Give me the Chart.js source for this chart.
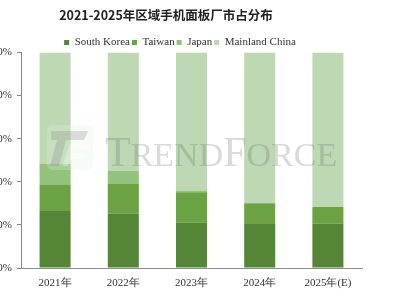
<!DOCTYPE html>
<html><head><meta charset="utf-8">
<script src="https://cdn.jsdelivr.net/npm/chart.js@4.4.0/dist/chart.umd.min.js"></script>
<style>
html,body{margin:0;padding:0;background:#fff;overflow:hidden;width:400px;height:300px;}
#wrap{position:absolute;left:-40px;top:0;width:440px;height:300px;}
</style></head>
<body><div id="wrap"><canvas id="c" width="440" height="300"></canvas></div>
<script>
const title = '2021-2025年区域手机面板厂市占分布';
const categories = ['2021年','2022年','2023年','2024年','2025年(E)'];
const seriesNames = ['South Korea','Taiwan','Japan','Mainland China'];
const southKorea = [26.4, 25.3, 21.0, 20.4, 20.7];
const taiwan = [12.1, 13.9, 14.2, 9.6, 7.6];
const japan = [9.8, 5.8, 0.8, 0, 0];
const mainlandChina = [51.7, 55.0, 64.0, 70.0, 71.7];
const yTicks = [0, 20, 40, 60, 80, 100];
const colors = ['#558638', '#6ba243', '#92c27b', '#bed8b4'];

const serif = 'Liberation Serif, Times New Roman, serif';

const titlePlugin = {
  id: 'titleAndMark',
  afterDatasetsDraw(chart) {
    const ctx = chart.ctx;
    ctx.save();
    ctx.globalAlpha = 0.28;
    ctx.fillStyle = '#e4f0dc';
    ctx.beginPath();
    ctx.roundRect(87, 125, 46, 45, 6);
    ctx.fill();
    ctx.fillStyle = '#8a8a8a';
    ctx.beginPath();
    ctx.moveTo(91, 131); ctx.lineTo(128, 131); ctx.lineTo(124, 140);
    ctx.lineTo(106, 140); ctx.lineTo(99, 166); ctx.lineTo(90, 166);
    ctx.lineTo(97, 140); ctx.lineTo(91, 140); ctx.closePath();
    ctx.fill();
    ctx.fillStyle = '#ffffff';
    ctx.beginPath();
    ctx.moveTo(110, 144); ctx.lineTo(130, 144); ctx.lineTo(128, 150);
    ctx.lineTo(114, 150); ctx.lineTo(113, 153); ctx.lineTo(126, 153);
    ctx.lineTo(124, 159); ctx.lineTo(111, 159); ctx.lineTo(108, 166);
    ctx.lineTo(102, 166); ctx.closePath();
    ctx.fill();
    ctx.globalAlpha = 0.22;
    ctx.fillStyle = '#555';
    ctx.textBaseline = 'alphabetic';
    ctx.textAlign = 'left';
    let x = 145; const base = 166;
    const parts = [['T', 42], ['REND', 34], ['F', 42], ['ORCE', 34]];
    for (const [t, s] of parts) {
      ctx.font = s + 'px ' + serif;
      ctx.fillText(t, x, base);
      x += ctx.measureText(t).width;
    }
    ctx.restore();
  },
  afterDraw(chart) {
    const ctx = chart.ctx;
    ctx.save();
    ctx.font = 'bold 12.5px "Noto Sans CJK SC", sans-serif';
    ctx.fillStyle = '#222';
    ctx.textAlign = 'center';
    ctx.textBaseline = 'middle';
    ctx.fillText(title, 206, 15);
    ctx.restore();
  }
};

const data = [southKorea, taiwan, japan, mainlandChina];
new Chart(document.getElementById('c'), {
  type: 'bar',
  data: {
    labels: categories,
    datasets: seriesNames.map((n, i) => ({
      label: n,
      data: data[i],
      backgroundColor: colors[i],
      borderWidth: 0,
      barPercentage: 0.455,
      categoryPercentage: 1
    }))
  },
  options: {
    responsive: false,
    animation: false,
    devicePixelRatio: 1,
    layout: { padding: { top: 35, right: 38, left: 38, bottom: 0 } },
    plugins: {
      title: { display: false },
      tooltip: { enabled: false },
      legend: {
        display: true,
        position: 'top',
        maxHeight: 17.5,
        labels: {
          boxWidth: 5, boxHeight: 5, padding: 2,
          color: '#333',
          font: { family: serif, size: 11, lineHeight: 1 }
        }
      }
    },
    scales: {
      x: {
        stacked: true,
        grid: { display: false },
        border: { display: true, color: '#8c8c8c', width: 1 },
        ticks: { color: '#333', padding: 1, font: { family: serif, size: 11 } },
        afterFit(s) { s.height = 32; }
      },
      y: {
        stacked: true,
        min: 0, max: 100,
        afterBuildTicks(s) { s.ticks = yTicks.map(v => ({ value: v })); },
        grid: { display: true, drawOnChartArea: false, drawTicks: true, tickLength: 4, color: '#8c8c8c' },
        border: { display: true, color: '#8c8c8c', width: 1 },
        ticks: { color: '#333', padding: 5, font: { family: serif, size: 11 }, callback: v => v + '%' },
        afterFit(s) { s.width = 23; }
      }
    }
  },
  plugins: [titlePlugin]
});
</script></body></html>
